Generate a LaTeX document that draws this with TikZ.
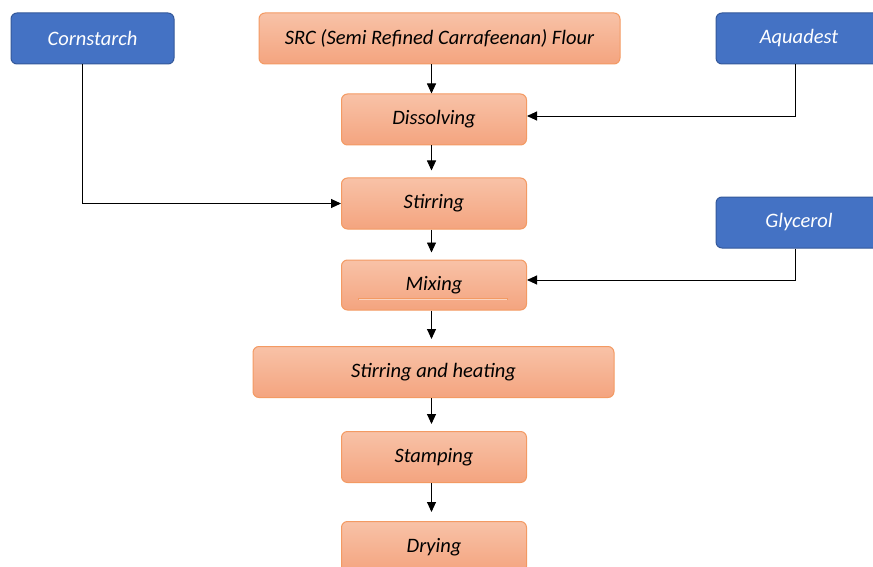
\documentclass[tikz,border=0pt]{standalone}
\usepackage{fontspec}
\setmainfont{Carlito}
\usetikzlibrary{arrows.meta}
\definecolor{proctop}{HTML}{F8C2A7}
\definecolor{procbot}{HTML}{F4A47F}
\definecolor{procborder}{HTML}{F39A63}
\definecolor{inblue}{HTML}{4472C4}
\definecolor{inborder}{HTML}{34589A}
\begin{document}
\begin{tikzpicture}[x=1pt,y=-1pt,
  proc/.style={draw=procborder, line width=1pt, rounded corners=6pt,
    top color=proctop, bottom color=procbot, minimum height=51pt,
    minimum width=185pt, inner sep=0pt, text=black,
    font=\fontsize{20.5}{24}\selectfont\itshape},
  inbox/.style={draw=inborder, line width=1pt, rounded corners=6pt,
    fill=inblue, minimum height=51pt, inner sep=0pt, text=white,
    font=\fontsize{20.5}{24}\selectfont\itshape},
  arr/.style={-{Triangle[length=10pt,width=9pt]}, line width=0.9pt, draw=black}]
\useasboundingbox (0,0) rectangle (873,567);
\node[inbox, minimum width=163pt] (cs) at (92.5,38.5) {Cornstarch};
\node[proc, minimum width=361pt] (src) at (439.5,38.5) {SRC (Semi Refined Carrafeenan) Flour};
\node[inbox, minimum width=166pt] (aq) at (799,38.5) {Aquadest};
\node[inbox, minimum width=166pt] (gly) at (799,222.5) {Glycerol};
\node[proc] (dis) at (434,119.5) {Dissolving};
\node[proc] (stir) at (434,203.5) {Stirring};
\node[proc, minimum height=50pt] (mix) at (434,285) {Mixing};
\node[proc, minimum width=361pt] (sh) at (433.5,372) {Stirring and heating};
\node[proc] (stamp) at (434,457) {Stamping};
\node[proc] (dry) at (434,547) {Drying};
\draw[procborder, line width=1.4pt] ([xshift=-76pt,yshift=-14pt]mix.center) -- ([xshift=74pt,yshift=-14pt]mix.center);
\draw[proctop!70!white, line width=0.6pt] ([xshift=-75pt,yshift=-14pt]mix.center) -- ([xshift=73pt,yshift=-14pt]mix.center);
\coordinate (ax) at (431.5,0);
\coordinate (rx) at (795,0);
\coordinate (lx) at (82,0);
\draw[arr] (src.south -| ax) -- (dis.north -| ax);
\draw[arr, shorten >=7pt] (dis.south -| ax) -- (stir.north -| ax);
\draw[arr, shorten >=7pt] (stir.south -| ax) -- (mix.north -| ax);
\draw[arr, shorten >=7pt] (mix.south -| ax) -- (sh.north -| ax);
\draw[arr, shorten >=7pt] (sh.south -| ax) -- (stamp.north -| ax);
\draw[arr, shorten >=9pt] (stamp.south -| ax) -- (dry.north -| ax);
\draw[arr] (aq.south -| rx) |- ([yshift=3.5pt]dis.east);
\draw[arr] (gly.south -| rx) |- ([yshift=5pt]mix.east);
\draw[arr] (cs.south -| lx) |- (stir.west);
\end{tikzpicture}
\end{document}
